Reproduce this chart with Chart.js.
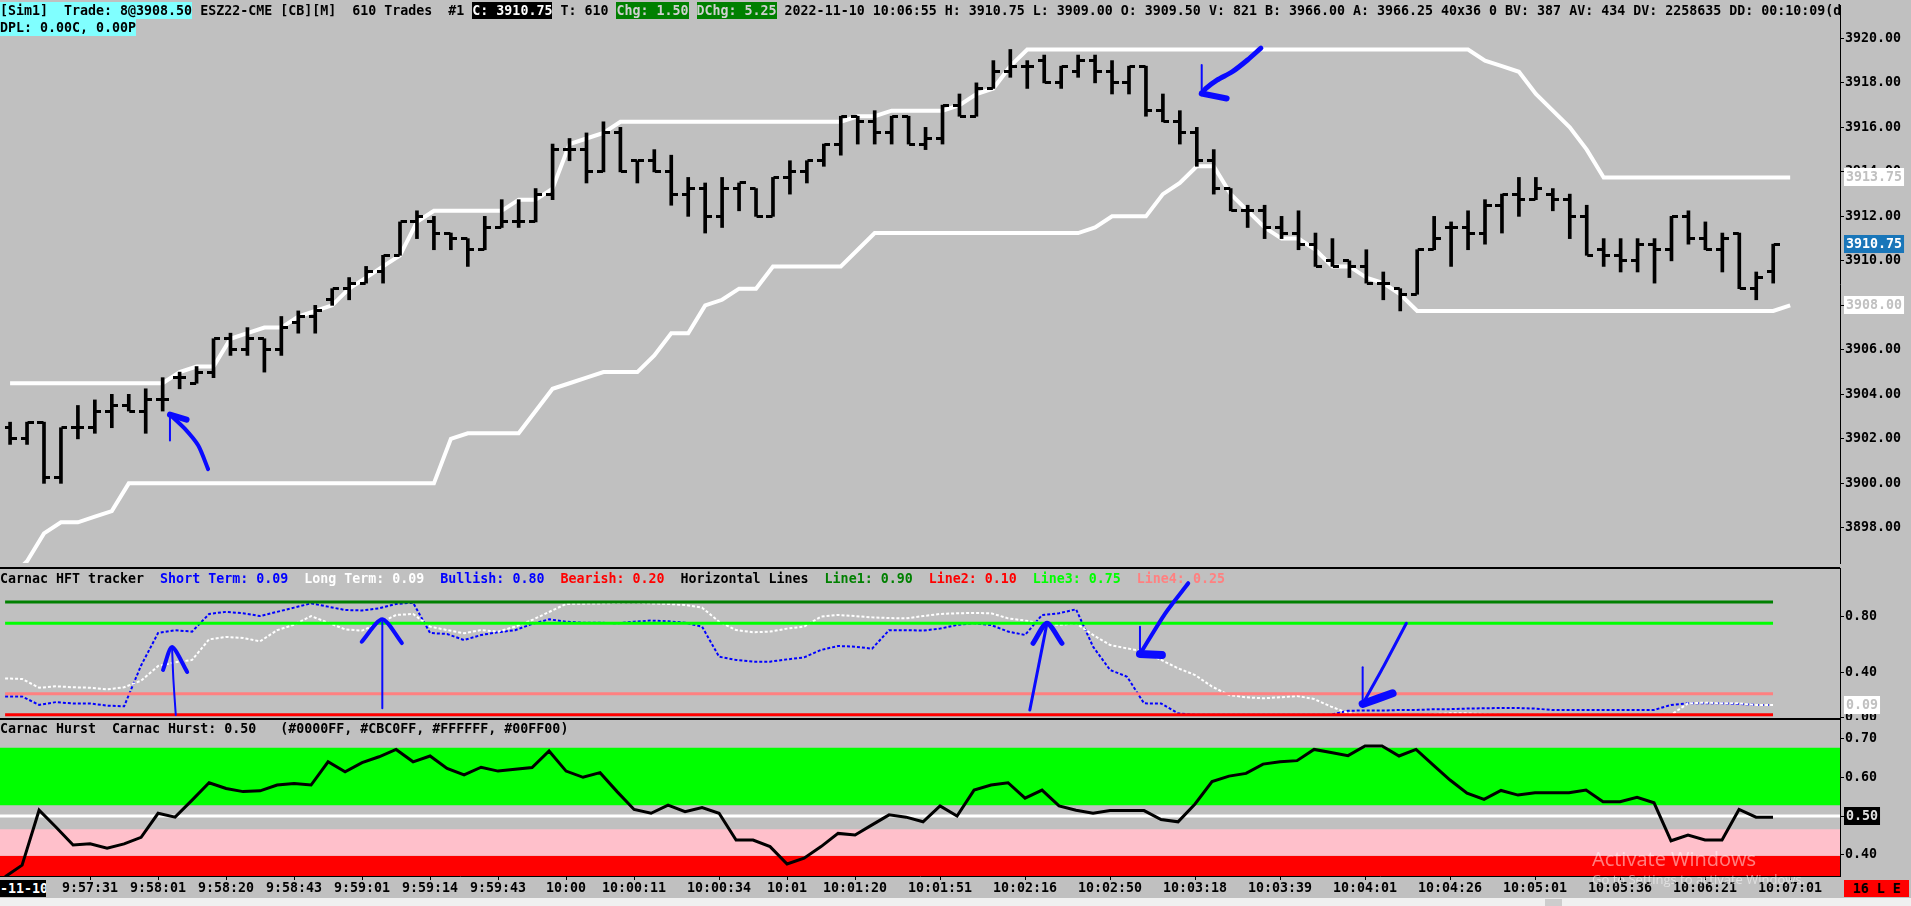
<!DOCTYPE html>
<html>
<head>
<meta charset="utf-8">
<script src="https://cdn.jsdelivr.net/npm/chart.js@4.4.1/dist/chart.umd.min.js"></script>
<style>
html,body{margin:0;padding:0;background:#c0c0c0;overflow:hidden;}
body{width:1911px;height:906px;position:relative;font:bold 13.3px 'DejaVu Sans Mono',monospace;color:#000;}
canvas{position:absolute;left:0;}
.txt{position:absolute;left:0;white-space:pre;line-height:17px;height:17px;z-index:3;}
.txt span{display:inline-block;height:17px;line-height:17px;}
.sep{position:absolute;left:0;width:1840px;height:2px;background:#000;z-index:2;}
.box{position:absolute;height:17px;line-height:17px;z-index:3;white-space:pre;overflow:hidden;}
.wm{position:absolute;font-family:'Open Sans',sans-serif;font-weight:normal;color:rgba(255,255,255,0.5);z-index:4;white-space:pre;}
</style>
</head>
<body>
<canvas id="cPrice" width="1911" height="568" style="top:0"></canvas>
<canvas id="cHft" width="1911" height="152" style="top:568px"></canvas>
<canvas id="cHurst" width="1911" height="178" style="top:720px"></canvas>

<div class="sep" style="top:567px"></div>
<div class="sep" style="top:718px"></div>

<div class="txt" style="top:2px;width:1840px;overflow:hidden"><span style="background:#80ffff">[Sim1]  Trade: 8@3908.50</span> ESZ22-CME [CB][M]  610 Trades  #1 <span style="background:#000;color:#fff">C: 3910.75</span> T: 610 <span style="background:#008000;color:#d0d0d0">Chg: 1.50</span> <span style="background:#008000;color:#d0d0d0">DChg: 5.25</span> 2022-11-10 10:06:55 H: 3910.75 L: 3909.00 O: 3909.50 V: 821 B: 3966.00 A: 3966.25 40x36 0 BV: 387 AV: 434 DV: 2258635 DD: 00:10:09(delay)</div>
<div class="txt" style="top:19px"><span style="background:#80ffff">DPL: 0.00C, 0.00P</span></div>

<div class="txt" style="top:570px">Carnac HFT tracker  <span style="color:#0000ff">Short Term: 0.09</span>  <span style="color:#ffffff">Long Term: 0.09</span>  <span style="color:#0000ff">Bullish: 0.80</span>  <span style="color:#ff0000">Bearish: 0.20</span>  Horizontal Lines  <span style="color:#008000">Line1: 0.90</span>  <span style="color:#ff0000">Line2: 0.10</span>  <span style="color:#00ff00">Line3: 0.75</span>  <span style="color:#ff8080">Line4: 0.25</span></div>
<div class="txt" style="top:720px">Carnac Hurst  Carnac Hurst: 0.50   (#0000FF, #CBC0FF, #FFFFFF, #00FF00)</div>

<div class="box" style="left:0;top:880px;width:46px;background:#000;color:#fff;text-align:right">-11-10</div>
<div class="box" style="left:1844px;top:880px;width:65px;background:#ff0000;color:#000;text-align:center">16 L E</div>
<div style="position:absolute;left:0;top:898px;width:1911px;height:8px;background:#f0f0f0;z-index:2"></div>
<div style="position:absolute;left:1545px;top:899px;width:17px;height:7px;background:#cdcdcd;z-index:2"></div>

<div class="wm" style="left:1592px;top:845px;font-size:20px">Activate Windows</div>
<div class="wm" style="left:1592px;top:870px;font-size:13px">Go to Settings to activate Windows.</div>

<script>
// ---- price bars (ESZ22, 1 bar per step) ----
const open = [3902.50,3902.00,3902.75,3900.25,3902.50,3902.50,3903.25,3903.50,3903.25,3903.75,
  3904.75,3904.50,3905.00,3906.50,3906.00,3906.50,3906.00,3907.25,3907.50,3908.25,
  3908.75,3909.00,3909.50,3910.25,3911.75,3911.75,3911.25,3911.00,3910.50,3911.50,
  3911.75,3911.75,3913.00,3915.00,3915.00,3914.00,3915.75,3914.50,3914.50,3914.00,
  3913.00,3913.25,3912.00,3913.25,3913.25,3912.00,3913.75,3914.00,3914.50,3915.25,
  3916.50,3916.25,3915.75,3916.50,3915.25,3915.50,3917.00,3916.50,3917.75,3918.50,
  3918.75,3919.00,3918.00,3918.50,3919.00,3918.50,3918.00,3918.75,3916.75,3916.25,
  3915.75,3914.50,3913.25,3912.25,3912.25,3911.50,3911.25,3910.75,3910.00,3910.00,
  3909.75,3909.00,3908.75,3908.50,3910.50,3911.50,3911.50,3911.25,3912.50,3913.00,
  3912.75,3913.00,3912.75,3912.00,3910.50,3910.25,3910.00,3910.75,3910.50,3912.00,
  3911.00,3910.50,3911.25,3908.75,3909.50];
const high = [3902.75,3902.75,3902.75,3902.50,3903.50,3903.75,3904.00,3904.00,3904.25,3904.75,
  3905.00,3905.25,3906.50,3906.75,3907.00,3906.50,3907.50,3907.75,3908.00,3908.75,
  3909.25,3909.75,3910.25,3911.75,3912.25,3912.00,3911.25,3911.00,3912.00,3912.75,
  3912.75,3913.25,3915.25,3915.50,3915.75,3916.25,3916.00,3914.50,3915.00,3914.75,
  3913.75,3913.50,3913.75,3913.50,3913.25,3913.75,3914.50,3914.50,3915.25,3916.50,
  3916.50,3916.75,3916.50,3916.50,3916.00,3917.00,3917.50,3918.00,3919.00,3919.50,
  3919.00,3919.25,3918.75,3919.25,3919.25,3919.00,3918.75,3918.75,3917.50,3916.75,
  3916.00,3915.00,3913.25,3912.50,3912.50,3912.00,3912.25,3911.25,3911.00,3910.00,
  3910.50,3909.50,3908.75,3910.50,3912.00,3911.75,3912.25,3912.75,3913.00,3913.75,
  3913.75,3913.25,3913.00,3912.50,3911.00,3911.00,3911.00,3911.00,3912.00,3912.25,
  3911.75,3911.25,3911.25,3909.50,3910.75];
const low = [3901.75,3901.75,3900.00,3900.00,3902.00,3902.25,3902.50,3903.25,3902.25,3903.25,
  3904.25,3904.50,3904.75,3905.75,3905.75,3905.00,3905.75,3906.75,3906.75,3908.00,
  3908.25,3909.00,3909.00,3910.25,3911.00,3910.50,3910.50,3909.75,3910.50,3911.50,
  3911.50,3911.75,3912.75,3914.50,3913.50,3914.00,3914.00,3913.50,3914.00,3912.50,
  3912.00,3911.25,3911.50,3912.25,3912.00,3912.00,3913.00,3913.50,3914.25,3914.75,
  3915.25,3915.25,3915.25,3915.25,3915.00,3915.25,3916.50,3916.50,3917.75,3918.25,
  3917.75,3918.00,3917.75,3918.25,3918.00,3917.50,3917.50,3916.50,3916.25,3915.25,
  3914.25,3913.00,3912.25,3911.50,3911.00,3911.00,3910.50,3909.75,3909.75,3909.25,
  3909.00,3908.25,3907.75,3908.50,3910.50,3909.75,3910.50,3910.75,3911.25,3912.00,
  3912.75,3912.25,3911.00,3910.25,3909.75,3909.50,3909.50,3909.00,3910.00,3910.75,
  3910.50,3909.50,3908.75,3908.25,3909.00];
const close = [3902.00,3902.75,3900.25,3902.50,3902.50,3903.25,3903.50,3903.25,3903.75,3903.75,
  3904.75,3905.00,3906.50,3906.00,3906.50,3906.00,3907.00,3907.50,3907.75,3908.75,
  3909.00,3909.50,3910.25,3911.75,3912.00,3911.25,3911.00,3910.50,3911.50,3911.75,
  3911.75,3913.00,3915.00,3915.00,3914.00,3915.75,3914.00,3914.50,3914.00,3913.00,
  3913.25,3912.00,3913.25,3913.50,3912.00,3913.75,3914.00,3914.50,3915.25,3916.50,
  3916.25,3915.75,3916.50,3915.25,3915.50,3917.00,3916.50,3917.75,3918.50,3918.75,
  3918.75,3918.00,3918.75,3919.00,3918.50,3918.00,3918.75,3916.75,3916.25,3915.75,
  3914.50,3913.25,3912.25,3912.25,3911.50,3911.25,3910.75,3909.75,3909.75,3909.75,
  3909.00,3909.00,3908.50,3910.50,3911.00,3911.50,3911.25,3912.50,3913.00,3912.75,
  3913.25,3912.75,3912.00,3910.25,3910.25,3910.00,3910.75,3910.50,3912.00,3911.00,
  3910.50,3911.00,3908.75,3909.25,3910.75];

// white channel lines (one more point than bars)
const upperBand = [3904.50,3904.50,3904.50,3904.50,3904.50,3904.50,3904.50,3904.50,3904.50,3904.50,
  3905.00,3905.25,3905.25,3906.50,3906.75,3907.00,3907.00,3907.50,3907.75,3908.00,
  3908.75,3909.25,3909.75,3910.25,3911.75,3912.25,3912.25,3912.25,3912.25,3912.25,
  3912.75,3912.75,3913.25,3915.25,3915.50,3915.75,3916.25,3916.25,3916.25,3916.25,
  3916.25,3916.25,3916.25,3916.25,3916.25,3916.25,3916.25,3916.25,3916.25,3916.25,
  3916.50,3916.50,3916.75,3916.75,3916.75,3916.75,3917.00,3917.50,3917.75,3918.75,
  3919.50,3919.50,3919.50,3919.50,3919.50,3919.50,3919.50,3919.50,3919.50,3919.50,
  3919.50,3919.50,3919.50,3919.50,3919.50,3919.50,3919.50,3919.50,3919.50,3919.50,
  3919.50,3919.50,3919.50,3919.50,3919.50,3919.50,3919.50,3919.00,3918.75,3918.50,
  3917.50,3916.75,3916.00,3915.00,3913.75,3913.75,3913.75,3913.75,3913.75,3913.75,
  3913.75,3913.75,3913.75,3913.75,3913.75,3913.75];
const lowerBand = [3895.75,3896.50,3897.75,3898.25,3898.25,3898.50,3898.75,3900.00,3900.00,3900.00,
  3900.00,3900.00,3900.00,3900.00,3900.00,3900.00,3900.00,3900.00,3900.00,3900.00,
  3900.00,3900.00,3900.00,3900.00,3900.00,3900.00,3902.00,3902.25,3902.25,3902.25,
  3902.25,3903.25,3904.25,3904.50,3904.75,3905.00,3905.00,3905.00,3905.75,3906.75,
  3906.75,3908.00,3908.25,3908.75,3908.75,3909.75,3909.75,3909.75,3909.75,3909.75,
  3910.50,3911.25,3911.25,3911.25,3911.25,3911.25,3911.25,3911.25,3911.25,3911.25,
  3911.25,3911.25,3911.25,3911.25,3911.50,3912.00,3912.00,3912.00,3913.00,3913.50,
  3914.25,3914.25,3913.00,3912.25,3911.50,3911.00,3911.00,3910.50,3909.75,3909.75,
  3909.25,3909.00,3908.50,3907.75,3907.75,3907.75,3907.75,3907.75,3907.75,3907.75,
  3907.75,3907.75,3907.75,3907.75,3907.75,3907.75,3907.75,3907.75,3907.75,3907.75,
  3907.75,3907.75,3907.75,3907.75,3907.75,3908.00];

// HFT tracker
const shortTerm = [0.23,0.23,0.17,0.19,0.18,0.18,0.165,0.16,0.45,0.68,
  0.70,0.69,0.815,0.83,0.82,0.80,0.83,0.86,0.89,0.867,
  0.843,0.84,0.855,0.886,0.895,0.68,0.673,0.63,0.666,0.685,
  0.70,0.744,0.777,0.76,0.753,0.753,0.749,0.76,0.768,0.763,
  0.753,0.725,0.512,0.489,0.477,0.477,0.493,0.507,0.56,0.588,
  0.583,0.569,0.70,0.70,0.697,0.711,0.737,0.749,0.737,0.69,
  0.666,0.808,0.82,0.848,0.583,0.418,0.37,0.181,0.18,0.11,
  0.10,0.10,0.10,0.10,0.10,0.10,0.10,0.10,0.10,0.129,
  0.13,0.13,0.134,0.134,0.139,0.14,0.144,0.146,0.148,0.148,
  0.144,0.134,0.134,0.134,0.134,0.134,0.134,0.134,0.17,0.181,
  0.181,0.181,0.177,0.17,0.17];
const longTerm = [0.358,0.354,0.292,0.302,0.295,0.292,0.28,0.295,0.342,0.446,
  0.472,0.489,0.635,0.652,0.645,0.621,0.70,0.739,0.80,0.753,
  0.706,0.697,0.749,0.808,0.815,0.725,0.701,0.678,0.701,0.69,
  0.725,0.772,0.829,0.886,0.888,0.89,0.893,0.895,0.89,0.886,
  0.879,0.86,0.76,0.701,0.685,0.69,0.711,0.725,0.796,0.808,
  0.80,0.791,0.786,0.784,0.80,0.815,0.82,0.822,0.82,0.784,
  0.768,0.749,0.737,0.749,0.666,0.595,0.571,0.548,0.489,0.43,
  0.382,0.30,0.24,0.224,0.217,0.224,0.233,0.212,0.158,0.112,
  0.10,0.10,0.10,0.10,0.105,0.11,0.11,0.105,0.10,0.10,
  0.10,0.10,0.10,0.10,0.10,0.10,0.10,0.10,0.10,0.181,
  0.186,0.181,0.181,0.17,0.17];
const hftLevels = [0.90, 0.10, 0.75, 0.25];
const hftLevelColors = ['#008000', '#ff0000', '#00ff00', '#ff8080'];

// Hurst
const hurst = [0.343,0.373,0.515,0.471,0.425,0.428,0.417,0.428,0.445,0.507,
  0.497,0.541,0.586,0.571,0.563,0.565,0.58,0.584,0.58,0.64,
  0.614,0.638,0.653,0.672,0.64,0.655,0.623,0.606,0.626,0.616,
  0.621,0.625,0.668,0.616,0.60,0.612,0.563,0.517,0.507,0.528,
  0.511,0.522,0.507,0.438,0.438,0.421,0.376,0.391,0.421,0.455,
  0.451,0.477,0.503,0.497,0.485,0.526,0.50,0.567,0.58,0.586,
  0.546,0.567,0.526,0.515,0.507,0.514,0.514,0.514,0.491,0.485,
  0.531,0.589,0.603,0.61,0.634,0.64,0.643,0.672,0.664,0.656,
  0.681,0.681,0.655,0.672,0.632,0.593,0.559,0.543,0.566,0.554,
  0.56,0.56,0.56,0.567,0.537,0.537,0.548,0.534,0.436,0.451,
  0.438,0.438,0.517,0.497,0.497];
const hurstMid = 0.50;
const hurstZoneTop = [0.676, 0.466, 0.397];
const hurstZoneBottom = [0.528, 0.397, 0.30];
const hurstZoneColors = ['#00ff00', '#ffc0cb', '#ff0000'];

// time axis
const timeIdx = [5,9,13,17,21,25,29,33,37,42,46,50,55,60,65,70,75,80,85,90,95,100,105];
const timeLabels = ['9:57:31','9:58:01','9:58:20','9:58:43','9:59:01','9:59:14','9:59:43','10:00',
  '10:00:11','10:00:34','10:01','10:01:20','10:01:51','10:02:16','10:02:50','10:03:18','10:03:39',
  '10:04:01','10:04:26','10:05:01','10:05:36','10:06:21','10:07:01'];

// axis ticks
const priceTicks = [3898,3900,3902,3904,3906,3908,3910,3912,3914,3916,3918,3920];
const hftTicks = [0.80, 0.40, 0.08];
const hftTickText = ['0.80', '0.40', '0.00'];
const hurstTicks = [0.70, 0.60, 0.50, 0.40];

// last-value boxes on the right axis
const priceMarkVals = [3913.75, 3910.75, 3908.00];
const priceMarkText = ['3913.75', '3910.75', '3908.00'];
const hftMarkVals = [0.17];
const hftMarkText = ['0.09'];
const hurstMarkVals = [0.50];
const hurstMarkText = ['0.50'];

// hand-drawn blue arrows, in (bar, value) units: stems and barbs
const priceArrowPaths = [
  [[11.68,3900.64],[11.10,3901.70],[10.29,3902.47],[9.43,3903.09]],
  [[9.43,3901.93],[9.43,3903.09]],
  [[9.43,3903.09],[10.41,3902.86]],
  [[73.78,3919.56],[72.99,3919.03],[72.09,3918.50],[71.19,3918.12],[70.52,3917.74],[70.29,3917.52]],
  [[70.29,3918.80],[70.29,3917.52]],
  [[70.29,3917.52],[71.76,3917.30]]
];
const priceArrowWidths = [4, 2, 6, 5, 2, 6];
const hftArrowPaths = [
  [[10.04,0.099],[9.90,0.35],[9.82,0.581]],
  [[9.29,0.418],[9.82,0.581],[10.71,0.404]],
  [[22.19,0.146],[22.19,0.777]],
  [[20.98,0.618],[22.19,0.777],[23.34,0.609]],
  [[60.28,0.134],[60.80,0.45],[61.29,0.749]],
  [[60.47,0.607],[61.29,0.749],[62.17,0.607]],
  [[69.60,1.033],[68.25,0.82],[66.76,0.531]],
  [[66.76,0.725],[66.76,0.531]],
  [[66.76,0.531],[68.05,0.524]],
  [[82.43,0.749],[81.08,0.441],[79.86,0.177]],
  [[79.86,0.437],[79.86,0.177]],
  [[79.86,0.177],[81.62,0.252]]
];
const hftArrowWidths = [2, 4, 2, 4, 3, 5, 4, 2, 8, 3, 2, 8];

// ---- layout ----
const AXIS_W = 71;
const X_MIN = -0.3, X_MAX = 107.94;
const FONT = {family:"'DejaVu Sans Mono', monospace", size:13.3, weight:'bold'};
const ARROW = '#0a0aff';

Chart.defaults.font = FONT;
Chart.defaults.color = '#000';

const pts = arr => arr.map((v,i)=>({x:i, y:v}));
const flat = (v, x0, x1) => [{x:x0, y:v}, {x:x1, y:v}];

function tickImg(side){
  const c=document.createElement('canvas');
  c.width=13; c.height=3;
  const g=c.getContext('2d'); g.fillStyle='#000';
  if(side==='L') g.fillRect(0,0,6,3); else g.fillRect(7,0,6,3);
  return c;
}

function arrowSets(paths, widths){
  return paths.map((p,k)=>({
    type:'line', data:p.map(([x,y])=>({x,y})), borderColor:ARROW, borderWidth:widths[k],
    borderCapStyle:'round', borderJoinStyle:'round', pointRadius:0, tension:0.25, order:0, clip:false
  }));
}

const xHidden = {type:'linear', min:X_MIN, max:X_MAX, offset:false, display:false};
function yRight(min, max, ticks, text){
  return {
    type:'linear', position:'right', min, max,
    afterBuildTicks:s=>{ s.ticks = ticks.map(v=>({value:v})); },
    afterFit:s=>{ s.width = AXIS_W; s.paddingTop = 0; s.paddingBottom = 0; },
    grid:{drawOnChartArea:false, drawTicks:true, tickLength:4, tickColor:'#000'},
    border:{display:true, color:'#000', width:1},
    ticks:{color:'#000', padding:1, autoSkip:false, callback:(v,i)=>text[i]}
  };
}

const valueBoxes = {
  id:'valueBoxes',
  afterDraw(chart, args, opts){
    const {ctx} = chart, ys = chart.scales.y;
    (opts.items||[]).forEach(b=>{
      const y = Math.round(ys.getPixelForValue(b.value));
      const x = ys.left + 4;
      ctx.save();
      ctx.font = "bold 13.3px 'DejaVu Sans Mono'";
      const w = ctx.measureText(b.text).width + 4;
      ctx.fillStyle = b.bg; ctx.fillRect(x, y-9, w, 18);
      ctx.fillStyle = b.fg; ctx.textBaseline = 'middle'; ctx.textAlign = 'left';
      ctx.fillText(b.text, x+2, y+1);
      ctx.restore();
    });
  }
};
const boxStyles = {
  '3913.75':['#ffffff','#c0c0c0'], '3910.75':['#1976b9','#ffffff'], '3908.00':['#ffffff','#c0c0c0'],
  '0.09':['#ffffff','#c0c0c0'], '0.50':['#000000','#e0e0e0']
};
const boxes = (vals, text) => vals.map((v,i)=>({value:v, text:text[i], bg:boxStyles[text[i]][0], fg:boxStyles[text[i]][1]}));

const base = {
  responsive:false, animation:false, devicePixelRatio:1, events:[],
  layout:{padding:0},
};

// ---- price panel ----
new Chart(document.getElementById('cPrice'), {
  type:'line',
  data:{datasets:[
    ...arrowSets(priceArrowPaths, priceArrowWidths),
    {type:'line', data:pts(open), showLine:false, pointStyle:tickImg('L'), pointRadius:4, order:1},
    {type:'line', data:pts(close), showLine:false, pointStyle:tickImg('R'), pointRadius:4, order:1},
    {type:'bar', data:high.map((h,i)=>({x:i, y:[low[i], h]})), backgroundColor:'#000', borderWidth:0, barThickness:3, order:2},
    {type:'line', data:pts(upperBand), borderColor:'#ffffff', borderWidth:4, pointRadius:0, order:3},
    {type:'line', data:pts(lowerBand), borderColor:'#ffffff', borderWidth:4, pointRadius:0, order:3}
  ]},
  options:{...base,
    plugins:{legend:{display:false}, tooltip:{enabled:false}, valueBoxes:{items:boxes(priceMarkVals, priceMarkText)}},
    scales:{x:xHidden, y:yRight(3896.42, 3921.5, priceTicks, priceTicks.map(v=>v.toFixed(2)))}
  },
  plugins:[valueBoxes]
});

// ---- HFT tracker panel ----
new Chart(document.getElementById('cHft'), {
  type:'line',
  data:{datasets:[
    ...arrowSets(hftArrowPaths, hftArrowWidths),
    ...hftLevels.map((v,k)=>({type:'line', data:flat(v, 0, 104), borderColor:hftLevelColors[k], borderWidth:3, pointRadius:0, order:1})),
    {type:'line', data:pts(longTerm), borderColor:'#ffffff', borderWidth:2, borderDash:[3,2], pointRadius:0, order:2},
    {type:'line', data:pts(shortTerm), borderColor:'#0000ff', borderWidth:2, borderDash:[3,2], pointRadius:0, order:3}
  ]},
  options:{...base,
    plugins:{legend:{display:false}, tooltip:{enabled:false}, valueBoxes:{items:boxes(hftMarkVals, hftMarkText)}},
    scales:{x:xHidden, y:yRight(0.063, 1.141, hftTicks, hftTickText)}
  },
  plugins:[valueBoxes]
});

// ---- Hurst panel ----
new Chart(document.getElementById('cHurst'), {
  type:'line',
  data:{datasets:[
    {type:'line', data:pts(hurst), borderColor:'#000', borderWidth:3, pointRadius:0, order:0},
    {type:'line', data:flat(hurstMid, X_MIN, X_MAX), borderColor:'#ffffff', borderWidth:3, pointRadius:0, order:1},
    ...hurstZoneTop.map((t,k)=>({type:'line', data:flat(t, X_MIN, X_MAX), borderWidth:0, pointRadius:0,
      backgroundColor:hurstZoneColors[k], fill:{value:hurstZoneBottom[k]}, order:5}))
  ]},
  options:{...base,
    plugins:{legend:{display:false}, tooltip:{enabled:false}, filler:{propagate:false},
      valueBoxes:{items:boxes(hurstMarkVals, hurstMarkText)}},
    scales:{
      x:{type:'linear', min:X_MIN, max:X_MAX, offset:false,
        afterBuildTicks:s=>{ s.ticks = timeIdx.map(v=>({value:v})); },
        afterFit:s=>{ s.height = 22; s.paddingLeft = 0; s.paddingRight = 0; },
        grid:{drawOnChartArea:false, drawTicks:true, tickLength:4, tickColor:'#000'},
        border:{display:true, color:'#000', width:1},
        ticks:{color:'#000', padding:1, autoSkip:false, maxRotation:0, minRotation:0, callback:(v,i)=>timeLabels[i]}
      },
      y:yRight(0.345, 0.748, hurstTicks, hurstTicks.map(v=>v.toFixed(2)))
    }
  },
  plugins:[valueBoxes]
});
</script>
</body>
</html>
